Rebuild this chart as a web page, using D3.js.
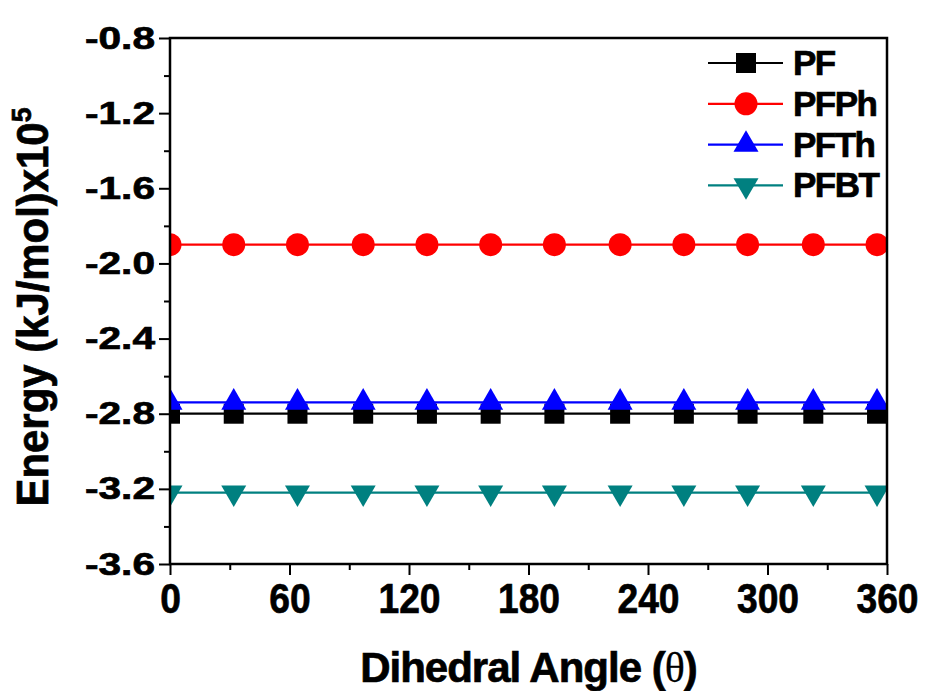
<!DOCTYPE html>
<meta charset="utf-8">
<style>
  body { margin: 0; background: #fff; }
  text { font-family: "Liberation Sans", Arial, sans-serif; font-weight: bold; fill: #000; }
  .heavy { stroke: #000; stroke-width: 0.7px; }
</style>
<svg></svg>
<script src="https://d3js.org/d3.v7.min.js"></script>
<script>
var width = 926,
    height = 691;

// dihedral angles
var angles = [0, 32, 64, 97, 129, 161, 193, 226, 258, 290, 323, 355];

var seriesNames = ["PF", "PFPh", "PFTh", "PFBT"];
var seriesColors = ["#000000", "#ff0000", "#0000ff", "#008080"];
var seriesShapes = ["square", "circle", "up", "down"];

var pfValues   = [-2.80, -2.80, -2.80, -2.80, -2.80, -2.80, -2.80, -2.80, -2.80, -2.80, -2.80, -2.80];
var pfphValues = [-1.90, -1.90, -1.90, -1.90, -1.90, -1.90, -1.90, -1.90, -1.90, -1.90, -1.90, -1.90];
var pfthValues = [-2.74, -2.74, -2.74, -2.74, -2.74, -2.74, -2.74, -2.74, -2.74, -2.74, -2.74, -2.74];
var pfbtValues = [-3.22, -3.22, -3.22, -3.22, -3.22, -3.22, -3.22, -3.22, -3.22, -3.22, -3.22, -3.22];

var xTicks = [0, 60, 120, 180, 240, 300, 360];
var xMinor = [30, 90, 150, 210, 270, 330];
var yTicks = [-0.8, -1.2, -1.6, -2.0, -2.4, -2.8, -3.2, -3.6];
var yMinor = [-1.0, -1.4, -1.8, -2.2, -2.6, -3.0, -3.4];

var allValues = [pfValues, pfphValues, pfthValues, pfbtValues];

var margin = {left: 170, right: 39, top: 38, bottom: 127};

var x = d3.scaleLinear().domain([0, 360]).range([margin.left, width - margin.right]);
var y = d3.scaleLinear().domain([-0.8, -3.6]).range([margin.top, height - margin.bottom]);

var svg = d3.select("svg")
    .attr("width", width)
    .attr("height", height);

svg.append("defs").append("clipPath").attr("id", "plot")
  .append("rect")
    .attr("x", x(0)).attr("y", y(-0.8))
    .attr("width", x(360) - x(0)).attr("height", y(-3.6) - y(-0.8));

function marker(sel, shape, color) {
  if (shape == "square") {
    sel.append("rect").attr("x", -10).attr("y", -10).attr("width", 20).attr("height", 20).attr("fill", color);
  } else if (shape == "circle") {
    sel.append("circle").attr("r", 11.5).attr("fill", color);
  } else if (shape == "up") {
    sel.append("path").attr("d", "M0,-14.4L12.5,7.2L-12.5,7.2Z").attr("fill", color);
  } else {
    sel.append("path").attr("d", "M0,14.4L12.5,-7.2L-12.5,-7.2Z").attr("fill", color);
  }
}

var line = d3.line()
    .x(function(d, i) { return x(angles[i]); })
    .y(function(d) { return y(d); });

var plot = svg.append("g").attr("clip-path", "url(#plot)");

allValues.forEach(function(vals, k) {
  plot.append("path")
      .attr("d", line(vals))
      .attr("fill", "none")
      .attr("stroke", seriesColors[k])
      .attr("stroke-width", 2.2);
  vals.forEach(function(v, i) {
    var g = plot.append("g").attr("transform", "translate(" + x(angles[i]) + "," + y(v) + ")");
    marker(g, seriesShapes[k], seriesColors[k]);
  });
});

// axes
var xAxis = svg.append("g").attr("transform", "translate(0," + y(-3.6) + ")")
    .call(d3.axisBottom(x).tickValues(xTicks).tickSize(11).tickFormat(d3.format("d")));
svg.append("g").attr("transform", "translate(0," + y(-3.6) + ")")
    .call(d3.axisBottom(x).tickValues(xMinor).tickSize(6).tickFormat(""))
    .select(".domain").remove();

var yAxis = svg.append("g").attr("transform", "translate(" + x(0) + ",0)")
    .call(d3.axisLeft(y).tickValues(yTicks).tickSize(11)
      .tickFormat(function(d) { return d.toFixed(1); }));
svg.append("g").attr("transform", "translate(" + x(0) + ",0)")
    .call(d3.axisLeft(y).tickValues(yMinor).tickSize(6).tickFormat(""))
    .select(".domain").remove();

svg.selectAll(".tick line").attr("stroke-width", 2);

xAxis.select(".domain").remove();
yAxis.select(".domain").remove();

xAxis.selectAll(".tick text")
    .attr("y", 49)
    .attr("dy", 0)
    .style("font-size", "43px")
    .attr("textLength", function(d) { return String(d).length * 20.7; })
    .attr("lengthAdjust", "spacingAndGlyphs");

yAxis.selectAll(".tick text")
    .attr("x", -15)
    .attr("dy", 10)
    .style("font-size", "32px")
    .attr("textLength", 70)
    .attr("lengthAdjust", "spacingAndGlyphs");

svg.selectAll(".tick text")
    .attr("class", "heavy")
    .style("font-family", "'Liberation Sans', Arial, sans-serif");

// frame
svg.append("rect")
    .attr("x", x(0)).attr("y", y(-0.8))
    .attr("width", x(360) - x(0)).attr("height", y(-3.6) - y(-0.8))
    .attr("fill", "none").attr("stroke", "#000").attr("stroke-width", 2.5);

// axis titles
var xt = svg.append("text")
    .attr("class", "heavy")
    .attr("x", (x(0) + x(360)) / 2)
    .attr("y", 682)
    .attr("text-anchor", "middle")
    .style("font-size", "42px")
    .style("letter-spacing", "-1px");
xt.append("tspan").text("Dihedral Angle (");
xt.append("tspan").text("θ").style("font-family", "'Liberation Serif', serif").style("font-weight", "normal").style("stroke-width", "0.3px");
xt.append("tspan").text(")");

var yt = svg.append("text")
    .attr("class", "heavy")
    .attr("transform", "translate(48," + 307 + ") rotate(-90)")
    .attr("text-anchor", "middle")
    .style("font-size", "44px")
    .attr("textLength", 399)
    .attr("lengthAdjust", "spacingAndGlyphs");
yt.append("tspan").text("Energy (kJ/mol)x10");
yt.append("tspan").text("5").attr("dy", -17).style("font-size", "28px");

// legend
var legend = svg.append("g");
seriesNames.forEach(function(name, k) {
  var ly = 63 + k * 40.8;
  legend.append("line")
      .attr("x1", 708).attr("x2", 783).attr("y1", ly).attr("y2", ly)
      .attr("stroke", seriesColors[k]).attr("stroke-width", 2.2);
  var g = legend.append("g").attr("transform", "translate(746," + ly + ")");
  marker(g, seriesShapes[k], seriesColors[k]);
  legend.append("text")
      .attr("class", "heavy")
      .attr("x", 793).attr("y", ly + 12)
      .style("font-size", "35px")
      .style("letter-spacing", "-1.5px")
      .text(name);
});
</script>
